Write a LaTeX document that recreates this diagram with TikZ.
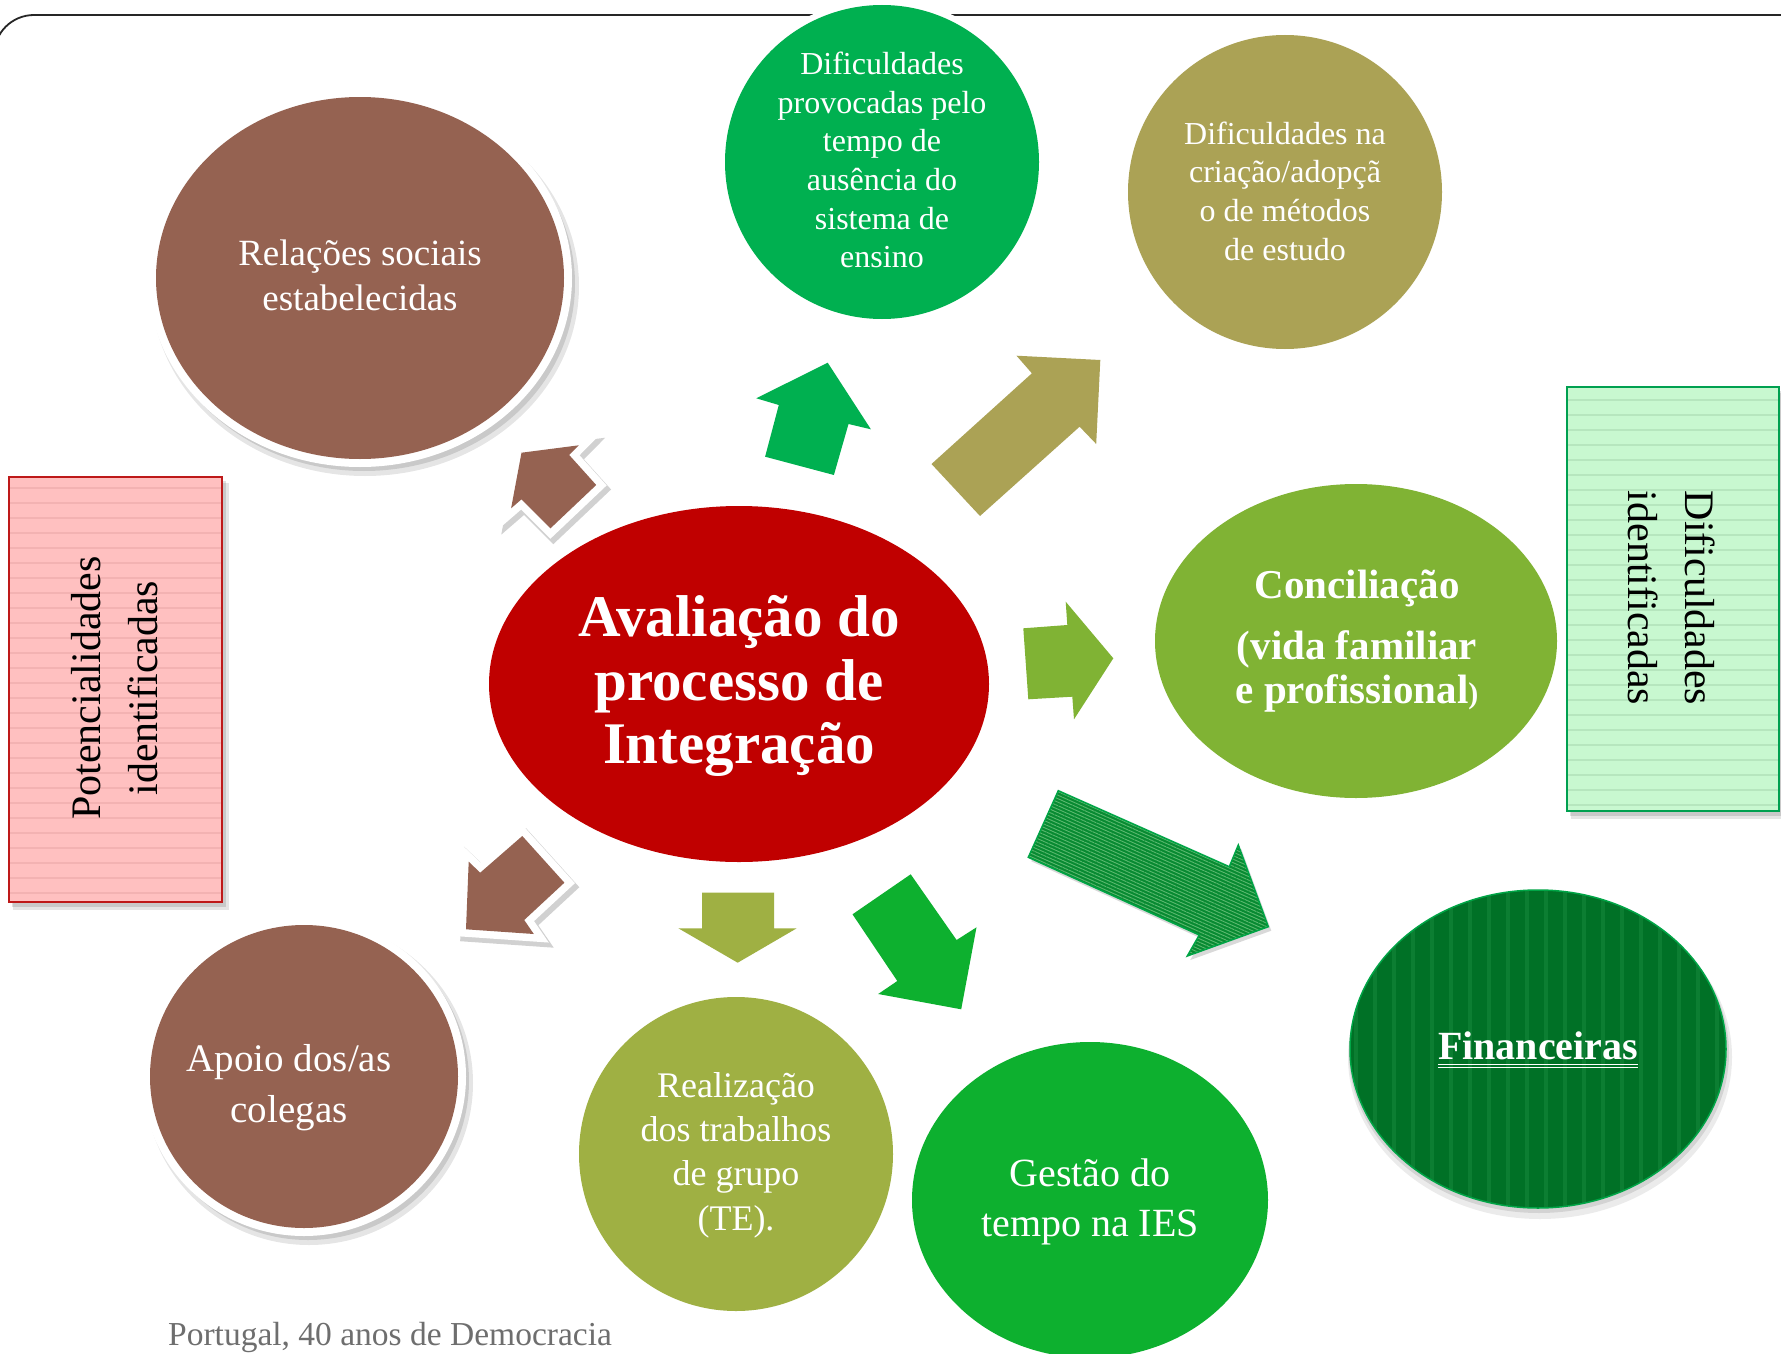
\documentclass[tikz,border=0pt]{standalone}
\usepackage{fontspec}
\setmainfont{Liberation Serif}
\usetikzlibrary{patterns.meta}

\definecolor{brownc}{RGB}{149,98,81}
\definecolor{greenA}{RGB}{0,176,80}
\definecolor{oliveA}{RGB}{171,162,85}
\definecolor{redC}{RGB}{192,0,0}
\definecolor{limeC}{RGB}{128,179,52}
\definecolor{darkG}{RGB}{0,113,38}
\definecolor{darkGs}{RGB}{12,126,50}
\definecolor{gestG}{RGB}{13,176,47}
\definecolor{realG}{RGB}{159,176,67}
\definecolor{stripeA}{RGB}{8,138,50}
\definecolor{stripeL}{RGB}{90,185,110}
\definecolor{stripeB}{RGB}{0,165,70}
\definecolor{pinkF}{RGB}{255,192,192}
\definecolor{pinkL}{RGB}{243,178,178}
\definecolor{pinkB}{RGB}{190,25,25}
\definecolor{mintF}{RGB}{200,248,208}
\definecolor{mintL}{RGB}{182,230,190}
\definecolor{mintB}{RGB}{0,160,80}
\definecolor{footG}{RGB}{110,110,110}

\begin{document}
\begin{tikzpicture}[x=1pt,y=-1pt,
  txt/.style={text=white, align=center, inner sep=0pt},
  boxtxt/.style={text=black, align=center, inner sep=0pt, font=\fontsize{42}{57}\selectfont},
  whiteedge/.style={draw=white, line width=15pt, line join=miter},
  shadowedge/.style={draw=black, opacity=0.18, line width=17pt, line join=miter}
]
\useasboundingbox (0,0) rectangle (1781,1354);
\fill[white] (0,0) rectangle (1781,1354);

% top frame line
\draw[line width=1.8pt, black!85, rounded corners=40pt] (-6,500) -- (-6,15) -- (1800,15);

% ---------- boxes ----------
% pink box
\fill[black, opacity=0.10] (13,483) rectangle (229,910);
\fill[black, opacity=0.12] (12,481) rectangle (226,907);
\fill[pinkF] (9,477) rectangle (222,902);
\begin{scope}
  \clip (9,477) rectangle (222,902);
  \foreach \yy in {488,503,...,900} \draw[pinkL, line width=1.6pt] (9,\yy) -- (222,\yy);
\end{scope}
\draw[pinkB, line width=2pt] (9,477) rectangle (222,902);
\node[boxtxt, rotate=90] (potenc) at (115,688) {Potencialidades\\identificadas};

% green box
\fill[black, opacity=0.10] (1571,393) rectangle (1786,819);
\fill[black, opacity=0.12] (1570,391) rectangle (1783,816);
\fill[mintF] (1567,387) rectangle (1779,811);
\begin{scope}
  \clip (1567,387) rectangle (1779,811);
  \foreach \yy in {400,415,...,810} \draw[mintL, line width=1.6pt] (1567,\yy) -- (1779,\yy);
\end{scope}
\draw[mintB, line width=2pt] (1567,387) rectangle (1779,811);
\node[boxtxt, rotate=-90] (dific) at (1672,598) {Dificuldades\\identificadas};

% ---------- circles ----------
% Relações sociais (brown, white edge)
\fill[black, opacity=0.10] (365,286) ellipse (214 and 190);
\fill[black, opacity=0.12] (364,284) ellipse (211 and 187);
\draw[white, line width=16pt] (360,278) ellipse (204 and 181);
\fill[brownc] (360,278) ellipse (204 and 181);
\node[txt, font=\fontsize{37}{45}\selectfont] (relacoes) at (360,275) {Relações sociais\\estabelecidas};

% Dificuldades provocadas (green)
\draw[white, line width=12pt] (882,162) circle (157);
\fill[greenA] (882,162) circle (157);
\node[txt, font=\fontsize{32}{38.6}\selectfont] (provoc) at (882,160)
  {Dificuldades\\provocadas pelo\\tempo de\\ausência do\\sistema de\\ensino};

% Dificuldades na criação (olive)
\fill[oliveA] (1285,192) circle (157);
\node[txt, font=\fontsize{32}{38.6}\selectfont] (criacao) at (1285,191)
  {Dificuldades na\\criação/adopçã\\o de métodos\\de estudo};

% central red ellipse
\fill[redC] (739,684) ellipse (250 and 178);
\node[txt, font=\fontsize{59}{63.5}\selectfont\bfseries] (centro) at (739,686)
  {Avaliação do\\processo de\\Integração};

% Conciliação (lime)
\fill[limeC] (1356,641) ellipse (201 and 157);
\node[txt, font=\fontsize{41}{44}\selectfont\bfseries] (concil) at (1357,641)
  {Conciliação\\[17pt] (vida familiar\\e profissional{\fontsize{30}{30}\selectfont)}};

% Financeiras (dark green striped)
\fill[black, opacity=0.08] (1540,1057) ellipse (192 and 162);
\fill[black, opacity=0.10] (1539,1053) ellipse (190 and 160);
\fill[darkG] (1538,1049) ellipse (188 and 159);
\begin{scope}
  \clip (1538,1049) ellipse (188 and 159);
  \foreach \xx in {1356,1375,...,1730} \draw[darkGs, line width=4.5pt] (\xx,880) -- (\xx,1215);
\end{scope}
\draw[stripeB, line width=1.5pt] (1538,1049) ellipse (188 and 159);
\node[txt, font=\fontsize{40}{44}\selectfont\bfseries] (financ) at (1538,1046) {Financeiras};
\draw[white, line width=1.2pt] ([yshift=-4pt]financ.south west) -- ([yshift=-4pt]financ.south east);
\draw[white, line width=1.2pt] ([yshift=-7.5pt]financ.south west) -- ([yshift=-7.5pt]financ.south east);

% Gestão do tempo (green)
\fill[gestG] (1090,1200) ellipse (178 and 158);
\node[txt, font=\fontsize{40}{50}\selectfont] (gestao) at (1090,1202) {Gestão do\\tempo na IES};

% Realização (olive green)
\fill[realG] (736,1154) circle (157);
\node[txt, font=\fontsize{36}{44.3}\selectfont] (realiz) at (736,1155)
  {Realização\\dos trabalhos\\de grupo\\(TE).};

% Apoio (brown, white edge)
\fill[black, opacity=0.10] (309,1083) ellipse (164 and 162);
\fill[black, opacity=0.12] (308,1081) ellipse (161 and 159);
\draw[white, line width=16pt] (304,1076.5) ellipse (154 and 151.5);
\fill[brownc] (304,1076.5) ellipse (154 and 151.5);
\node[txt, font=\fontsize{39}{51}\selectfont] (apoio) at (289,1088) {Apoio dos/as\\colegas};

% ---------- arrows ----------
% brown arrow up-left
\draw[shadowedge, xshift=3pt, yshift=-4pt] (521.5,452.7) -- (578.8,445.3) -- (569.2,455) -- (596.2,485) -- (550.5,528.3) -- (521.5,499.3) -- (511.1,508.3) -- cycle;
\draw[whiteedge] (521.5,452.7) -- (578.8,445.3) -- (569.2,455) -- (596.2,485) -- (550.5,528.3) -- (521.5,499.3) -- (511.1,508.3) -- cycle;
\fill[brownc] (521.5,452.7) -- (578.8,445.3) -- (569.2,455) -- (596.2,485) -- (550.5,528.3) -- (521.5,499.3) -- (511.1,508.3) -- cycle;

% green arrow up
\fill[greenA] (827.7,362.7) -- (870.9,429.3) -- (848.5,424) -- (833.9,475) -- (765.1,456.7) -- (778.8,405) -- (756.3,398.3) -- cycle;

% olive arrow up-right
\fill[oliveA] (1100.3,360) -- (1016.5,355.7) -- (1031.9,373.3) -- (931.5,464) -- (980,516) -- (1079.6,426.7) -- (1096.2,444) -- cycle;

% lime arrow right
\fill[limeC] (1023.3,628.3) -- (1067.3,625) -- (1065.7,601.7) -- (1113.3,658.3) -- (1074,719.3) -- (1072.3,696.7) -- (1028.3,699.3) -- cycle;

% striped dark green arrow down-right
\fill[black, opacity=0.15, xshift=3pt, yshift=-4pt] (1058.3,790.7) -- (1229.3,866.7) -- (1238.3,845) -- (1268.3,926.7) -- (1187.3,956) -- (1199.3,935) -- (1028.3,857.3) -- cycle;
\fill[stripeA] (1058.3,790.7) -- (1229.3,866.7) -- (1238.3,845) -- (1268.3,926.7) -- (1187.3,956) -- (1199.3,935) -- (1028.3,857.3) -- cycle;
\path[pattern={Lines[angle=-24,distance=3.2pt,line width=0.9pt]}, pattern color=stripeL] (1058.3,790.7) -- (1229.3,866.7) -- (1238.3,845) -- (1268.3,926.7) -- (1187.3,956) -- (1199.3,935) -- (1028.3,857.3) -- cycle;
\draw[stripeB, line width=1.5pt, line join=miter] (1058.3,790.7) -- (1229.3,866.7) -- (1238.3,845) -- (1268.3,926.7) -- (1187.3,956) -- (1199.3,935) -- (1028.3,857.3) -- cycle;

% brown arrow down-left
\draw[shadowedge, xshift=3pt, yshift=-4pt] (466,929.3) -- (468.7,861.7) -- (480.2,872.7) -- (522.3,836) -- (564.4,882.7) -- (524.2,920) -- (533.8,934) -- cycle;
\draw[whiteedge] (466,929.3) -- (468.7,861.7) -- (480.2,872.7) -- (522.3,836) -- (564.4,882.7) -- (524.2,920) -- (533.8,934) -- cycle;
\fill[brownc] (466,929.3) -- (468.7,861.7) -- (480.2,872.7) -- (522.3,836) -- (564.4,882.7) -- (524.2,920) -- (533.8,934) -- cycle;

% olive-green arrow down
\fill[realG] (702.2,892.7) -- (774.1,892.7) -- (774.1,928.3) -- (796.7,928.3) -- (737.7,962.7) -- (678.4,928.3) -- (702.2,928.3) -- cycle;

% green arrow down-right
\fill[gestG] (910.7,874.3) -- (852.5,914.3) -- (897.3,981) -- (878.2,994) -- (961.2,1009.3) -- (976.5,927.3) -- (956.6,940) -- cycle;

% footer
\node[text=footG, font=\fontsize{33.5}{40}\selectfont, anchor=base west, inner sep=0pt] (footer) at (168,1345) {Portugal, 40 anos de Democracia};
\end{tikzpicture}
\end{document}
